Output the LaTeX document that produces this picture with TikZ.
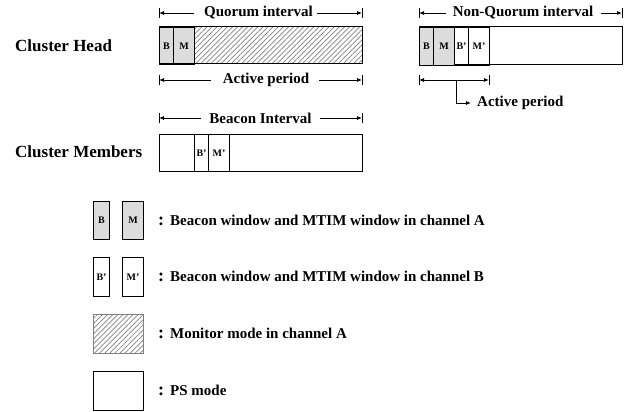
\documentclass[tikz,border=0pt]{standalone}
\usepackage{fontspec}
\setmainfont{Liberation Serif}
\usetikzlibrary{arrows.meta,patterns.meta}
\definecolor{cellgray}{RGB}{220,220,220}
\begin{document}
\begin{tikzpicture}[x=1pt,y=-1pt,
  lbl/.style={font=\fontsize{15}{18}\selectfont\bfseries, inner sep=0pt},
  biglbl/.style={font=\fontsize{17}{20}\selectfont\bfseries, inner sep=0pt},
  cell/.style={draw=black, line width=1pt, font=\fontsize{10}{12}\selectfont\bfseries},
  gcell/.style={cell, fill=cellgray},
  hatch/.style={pattern={Lines[angle=45,distance=3.6pt,line width=0.7pt]}, pattern color=gray},
  dim/.style={line width=0.8pt, -{Latex[length=5pt,width=4pt]}},
  barline/.style={line width=0.8pt}
]
\useasboundingbox (0,0) rectangle (643,412);

% labels
\node[biglbl, anchor=west] (chead) at (15,46) {Cluster Head};
\node[biglbl, anchor=west] (cmem) at (15,152) {Cluster Members};

% ---- Cluster head quorum interval ----
\node[lbl] (qi) at (258.5,13) {Quorum interval};
\coordinate (qiL) at (159,13); \coordinate (qiR) at (362,13);
\draw[dim] ([xshift=-10pt]qi.west) -- (qiL);
\draw[dim] ([xshift=4pt]qi.east) -- (qiR);
\draw[barline] (159,8) -- (159,18) (362,8) -- (362,18);

\path[hatch] (194,27) rectangle (362,64);
\node[gcell, minimum width=14pt, minimum height=37pt, anchor=north west, inner sep=0pt] (qB) at (159,27) {B};
\node[gcell, minimum width=21pt, minimum height=37pt, anchor=north west, inner sep=0pt] (qM) at (173,27) {M};
\draw[line width=1pt] (159,27) rectangle (362,64);

\node[lbl] (ap) at (266,80) {Active period};
\coordinate (apL) at (159,80); \coordinate (apR) at (362,80);
\draw[dim] ([xshift=-12pt]ap.west) -- (apL);
\draw[dim] ([xshift=10pt]ap.east) -- (apR);
\draw[barline] (159,75) -- (159,85) (362,75) -- (362,85);

% ---- Cluster members ----
\node[lbl] (bi) at (260.5,118) {Beacon Interval};
\coordinate (biL) at (159,118); \coordinate (biR) at (362,118);
\draw[dim] ([xshift=-8pt]bi.west) -- (biL);
\draw[dim] ([xshift=8pt]bi.east) -- (biR);
\draw[barline] (159,113) -- (159,123) (362,113) -- (362,123);

\draw[line width=1pt] (159,134) rectangle (362,171);
\node[cell, minimum width=14pt, minimum height=37pt, anchor=north west, inner sep=0pt] (mB) at (194,134) {B’};
\node[cell, minimum width=21pt, minimum height=37pt, anchor=north west, inner sep=0pt] (mM) at (208,134) {M’};

% ---- Non-quorum interval ----
\node[lbl] (nq) at (523,13) {Non-Quorum interval};
\coordinate (nqL) at (419,13); \coordinate (nqR) at (622,13);
\draw[dim] ([xshift=-7pt]nq.west) -- (nqL);
\draw[dim] ([xshift=8pt]nq.east) -- (nqR);
\draw[barline] (419,8) -- (419,18) (622,8) -- (622,18);

\draw[line width=1pt] (419,27) rectangle (622,65);
\node[gcell, minimum width=14pt, minimum height=38pt, anchor=north west, inner sep=0pt] (nB) at (419,27) {B};
\node[gcell, minimum width=21pt, minimum height=38pt, anchor=north west, inner sep=0pt] (nM) at (433,27) {M};
\node[cell, minimum width=14pt, minimum height=38pt, anchor=north west, inner sep=0pt] (nB2) at (454,27) {B’};
\node[cell, minimum width=21pt, minimum height=38pt, anchor=north west, inner sep=0pt] (nM2) at (468,27) {M’};

\coordinate (naL) at (419,80); \coordinate (naR) at (489,80); \coordinate (naM) at (456,80);
\draw[line width=0.8pt, {Latex[length=5pt,width=4pt]}-{Latex[length=5pt,width=4pt]}] (naL) -- (naR);
\draw[barline] (419,75) -- (419,85) (489,75) -- (489,85);
\node[lbl, anchor=west] (nap) at (477,103) {Active period};
\draw[line width=0.8pt, -{Latex[length=5pt,width=4pt]}] (naM) |- ([xshift=-6pt]nap.west);

% ---- Legend ----
\node[gcell, minimum width=16pt, minimum height=38pt, anchor=north west, inner sep=0pt] (lB) at (93,201) {B};
\node[gcell, minimum width=21pt, minimum height=38pt, anchor=north west, inner sep=0pt] (lM) at (122,201) {M};
\node[lbl, anchor=west] (t1) at (158,220) {{\fontsize{18}{18}\selectfont:}\hspace{6pt}Beacon window and MTIM window in channel A};

\node[cell, minimum width=16pt, minimum height=39pt, anchor=north west, inner sep=0pt] (lB2) at (93,257) {B’};
\node[cell, minimum width=21pt, minimum height=39pt, anchor=north west, inner sep=0pt] (lM2) at (122,257) {M’};
\node[lbl, anchor=west] (t2) at (158,276) {{\fontsize{18}{18}\selectfont:}\hspace{6pt}Beacon window and MTIM window in channel B};

\path[hatch] (93,314) rectangle (143,353);
\draw[gray, line width=1pt] (93,314) rectangle (143,353);
\node[lbl, anchor=west] (t3) at (158,333) {{\fontsize{18}{18}\selectfont:}\hspace{6pt}Monitor mode in channel A};

\draw[line width=1pt] (93,371) rectangle (143,410);
\node[lbl, anchor=west] (t4) at (158,390) {{\fontsize{18}{18}\selectfont:}\hspace{6pt}PS mode};
\end{tikzpicture}
\end{document}
